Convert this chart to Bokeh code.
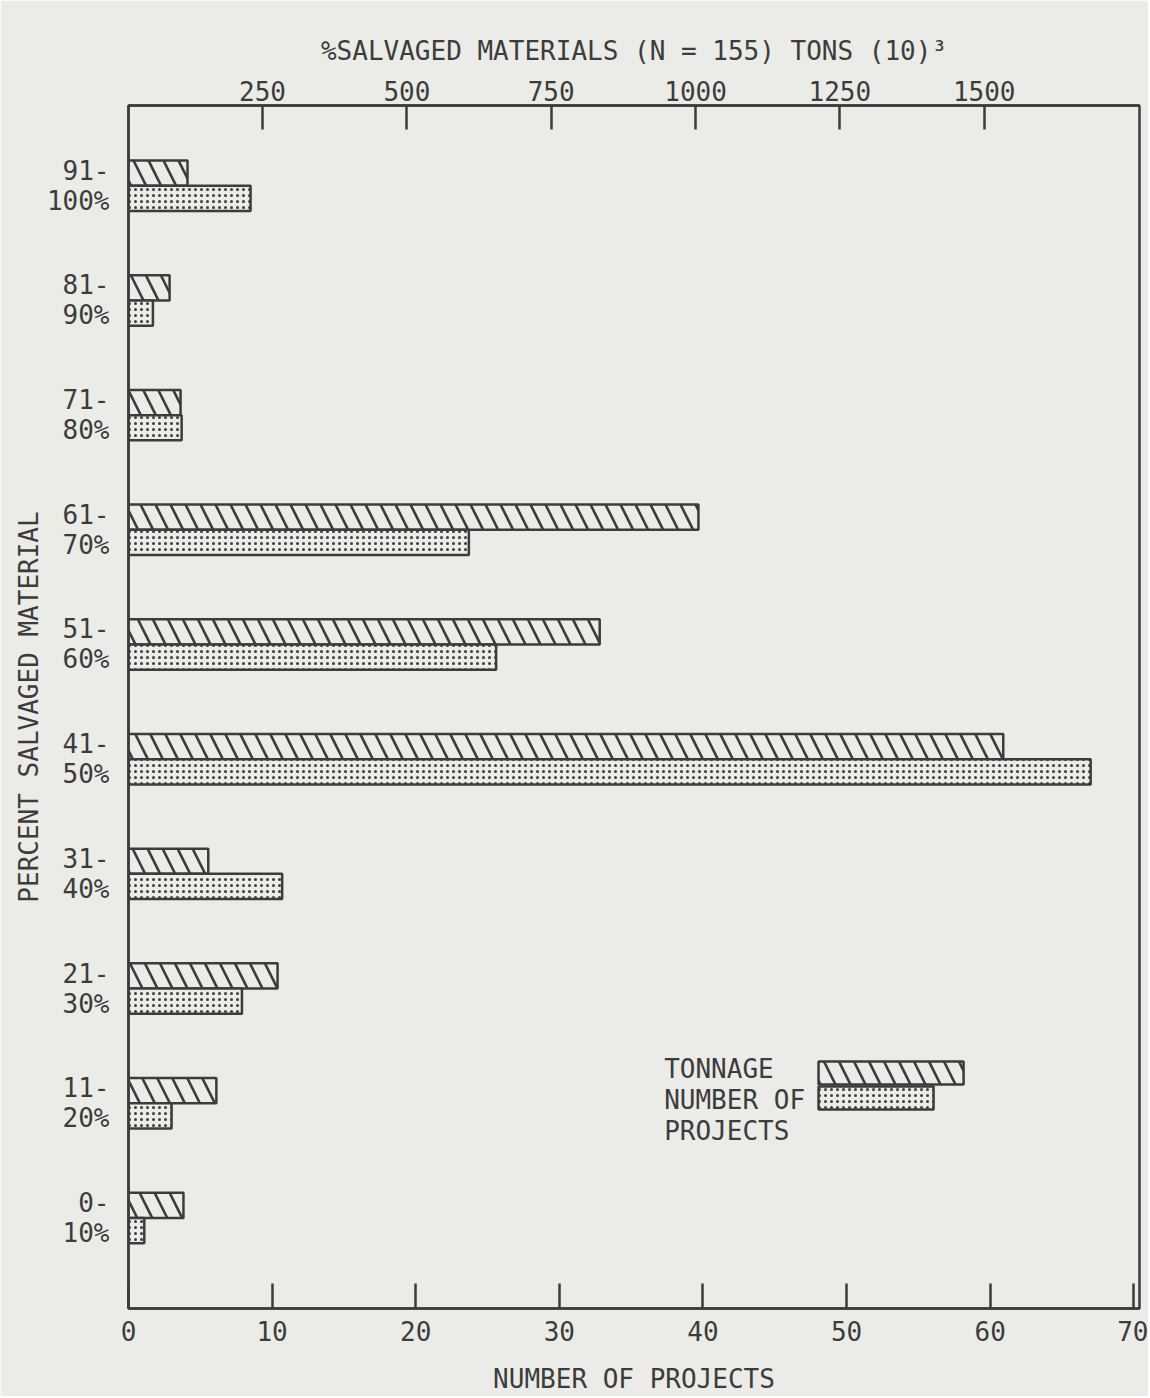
from bokeh.plotting import figure
from bokeh.models import Range1d, LinearAxis, FixedTicker, ColumnDataSource
from bokeh.embed import file_html
from bokeh.resources import INLINE
from bokeh.core.properties import value

# ---------------- data ----------------
categories = ["0-\n10%", "11-\n20%", "21-\n30%", "31-\n40%", "41-\n50%",
              "51-\n60%", "61-\n70%", "71-\n80%", "81-\n90%", "91-\n100%"]
tonnage = [113, 170, 276, 156, 1533, 834, 1005, 108, 89, 120]      # tons (10)^3
projects = [1.1, 3.0, 7.9, 10.7, 67.0, 25.6, 23.7, 3.7, 1.7, 8.5]  # number of projects
bottom_ticks = [0, 10, 20, 30, 40, 50, 60, 70]
top_ticks = [250, 500, 750, 1000, 1250, 1500]
legend_labels = ["TONNAGE", "NUMBER OF", "PROJECTS"]

# ---------------- style ----------------
FONT = "DejaVu Sans Mono"
FS = "26px"
INK = "#3c3c3c"
PAPER = "#ebebe7"
BAR_H = 0.22
HATCH = dict(hatch_pattern="left_diagonal_line", hatch_color=INK, hatch_scale=30, hatch_weight=2.6)
DOTS = dict(hatch_pattern="dot", hatch_color=INK, hatch_scale=6, hatch_weight=2.5)

pos = list(range(len(categories)))
src_t = ColumnDataSource(dict(y=[p + BAR_H / 2 for p in pos], right=tonnage))
src_p = ColumnDataSource(dict(y=[p - BAR_H / 2 for p in pos], right=projects))

p = figure(frame_width=1011, frame_height=1203,
           min_border_left=128, min_border_right=9,
           min_border_top=105, min_border_bottom=82,
           x_range=Range1d(0, 70.4), y_range=Range1d(-0.79, 9.70),
           output_backend="svg", toolbar_location=None,
           x_axis_location="below")
p.extra_x_ranges = {"tons": Range1d(17.8, 1769)}

p.background_fill_color = PAPER
p.border_fill_color = PAPER
p.outline_line_color = INK
p.outline_line_width = 2.5
p.grid.grid_line_color = None

# bars
p.hbar(y="y", right="right", left=0, height=BAR_H, source=src_t, x_range_name="tons",
       fill_color=PAPER, line_color=INK, line_width=2.5, **HATCH)
p.hbar(y="y", right="right", left=0, height=BAR_H, source=src_p,
       fill_color=PAPER, line_color=INK, line_width=2.5, **DOTS)

# legend (drawn manually: text left, swatches right)
p.text(x=[37.3] * 3, y=[1.30, 1.03, 0.76], text=legend_labels,
       text_font=value(FONT), text_font_size=FS, text_color=INK,
       text_baseline="middle", text_align="left")
p.hbar(y=[1.264], left=[48.05], right=[58.15], height=0.2,
       fill_color=PAPER, line_color=INK, line_width=2.5, **HATCH)
p.hbar(y=[1.046], left=[48.05], right=[56.06], height=0.2,
       fill_color=PAPER, line_color=INK, line_width=2.5, **DOTS)

def style_axis(ax):
    ax.axis_line_color = INK
    ax.axis_line_width = 2.5
    ax.major_label_text_font = FONT
    ax.major_label_text_font_size = FS
    ax.major_label_text_color = INK
    ax.axis_label_text_font = FONT
    ax.axis_label_text_font_size = FS
    ax.axis_label_text_color = INK
    ax.axis_label_text_font_style = "normal"
    ax.minor_tick_line_color = None
    ax.major_tick_line_color = INK
    ax.major_tick_line_width = 2.5

# bottom axis
xa = p.xaxis[0]
style_axis(xa)
xa.ticker = FixedTicker(ticks=bottom_ticks)
xa.major_tick_in = 25
xa.major_tick_out = 0
xa.major_label_standoff = 12
xa.axis_label = "NUMBER OF PROJECTS"
xa.axis_label_standoff = 20

# left axis
ya = p.yaxis[0]
style_axis(ya)
ya.ticker = FixedTicker(ticks=pos)
ya.major_label_overrides = {i: c for i, c in enumerate(categories)}
ya.major_label_text_line_height = 1.0
ya.major_tick_line_color = None
ya.major_label_standoff = 13
ya.axis_label = "PERCENT SALVAGED MATERIAL"
ya.axis_label_standoff = 0

# top axis (tonnage)
ta = LinearAxis(x_range_name="tons", ticker=FixedTicker(ticks=top_ticks))
style_axis(ta)
ta.major_tick_in = 24
ta.major_tick_out = 0
ta.major_label_standoff = 5
ta.axis_label = "%SALVAGED MATERIALS (N = 155) TONS (10)\u00b3"
ta.axis_label_standoff = 12
p.add_layout(ta, "above")

open("out.html", "w").write(file_html(p, INLINE))
